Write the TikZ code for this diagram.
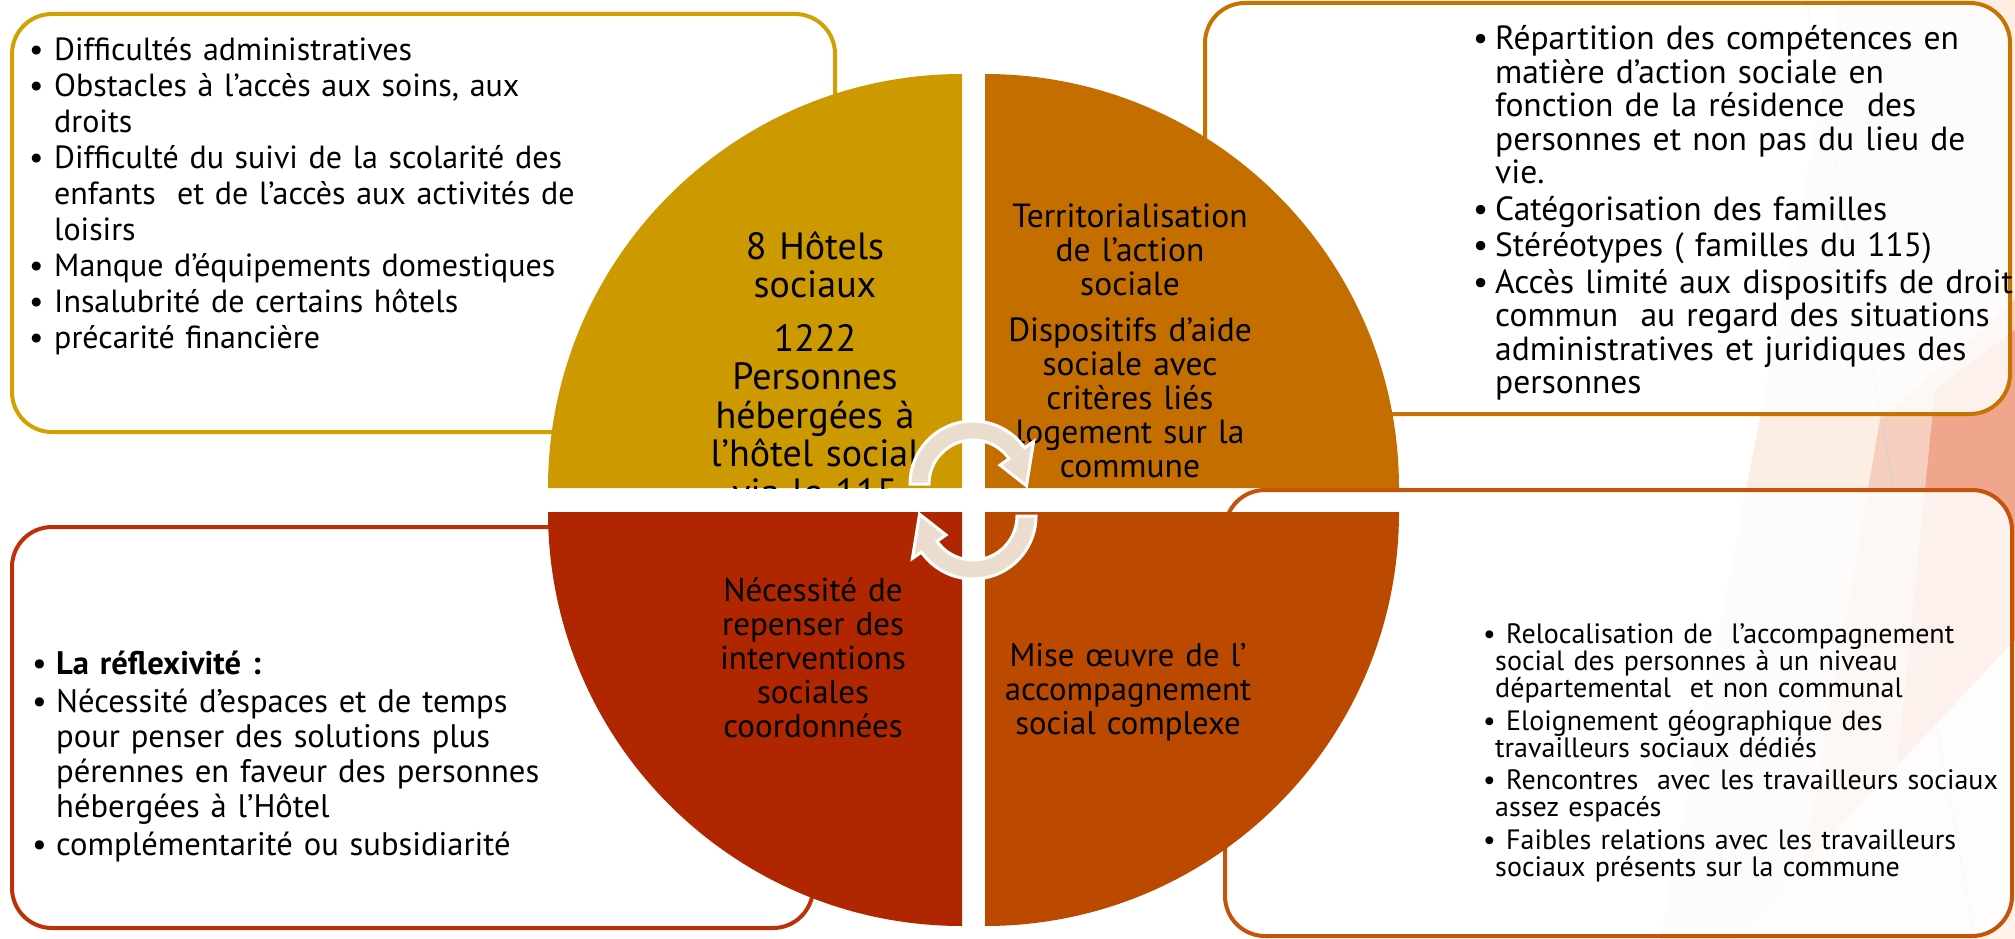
\documentclass[tikz,border=0pt]{standalone}
\usepackage{fontspec}
\setmainfont{PT Sans}

\definecolor{goldq}{RGB}{204,153,0}
\definecolor{goldline}{RGB}{210,160,0}
\definecolor{ochreq}{RGB}{196,110,0}
\definecolor{ochreline}{RGB}{199,115,0}
\definecolor{brickq}{RGB}{176,38,0}
\definecolor{brickline}{RGB}{190,48,8}
\definecolor{rustq}{RGB}{187,74,0}
\definecolor{rustline}{RGB}{196,84,10}
\definecolor{arrowbeige}{RGB}{234,221,206}
\definecolor{facetpeach}{RGB}{252,238,226}
\definecolor{facetpink}{RGB}{246,206,190}
\definecolor{facetsalmon}{RGB}{239,166,140}

% bullet line with hanging indent: #1 bullet box, #2 hang
\newcommand{\puce}[2]{\par\hangindent=#2\hangafter=1\noindent\makebox[#1][l]{\textbullet}}

\begin{document}
\begin{tikzpicture}[x=1pt, y=-1pt,
    boxline/.style={line width=4pt, rounded corners=40pt, fill=white, fill opacity=0.85},
    listtext/.style={align=left, inner sep=0pt, anchor=north west},
    quadtext/.style={align=center, inner sep=0pt, anchor=north, text width=330pt},
    cyclearrow/.style={fill=arrowbeige, draw=white, line width=3pt}]
    \useasboundingbox (0,0) rectangle (2015,939);

    % Background facets
    \fill[facetpeach] (1840,0) -- (2015,0) -- (2015,939) -- (1660,939) -- cycle;
    \fill[facetpink] (1880,420) -- (2015,300) -- (2015,939) -- (1790,939) -- cycle;
    \fill[facetsalmon] (1935,390) -- (2015,330) -- (2015,939) -- (1880,939) -- cycle;
    \fill[facetpeach!70!white] (2015,640) -- (2015,939) -- (1735,939) -- cycle;
    \draw[gray!35, line width=1pt] (1806,0) -- (1975,939);

    % Side boxes
    \draw[boxline, draw=goldline] (12,14) rectangle (835,432);
    \draw[boxline, draw=ochreline] (1205,3) rectangle (2010,414);
    \draw[boxline, draw=brickline] (12,527) rectangle (813,928);
    \draw[boxline, draw=rustline] (1225,490) rectangle (2012,936);

    % Box texts
    \node[listtext, text width=640pt, font=\fontsize{32}{36}\selectfont] (tllist) at (29,24) {%
        \puce{25pt}{25pt}Difficultés administratives
        \puce{25pt}{25pt}Obstacles à l’accès aux soins, aux\newline droits
        \puce{25pt}{25pt}Difficulté du suivi de la scolarité des\newline enfants~ et de l’accès aux activités de\newline loisirs
        \puce{25pt}{25pt}Manque d’équipements domestiques
        \puce{25pt}{25pt}Insalubrité de certains hôtels
        \puce{25pt}{25pt}précarité financière\par};
    \node[listtext, text width=560pt, font=\fontsize{33.5}{33.5}\selectfont] (trlist) at (1473,13) {%
        \setlength{\parskip}{3pt}%
        \puce{22pt}{22pt}Répartition des compétences en\newline matière d’action sociale en\newline fonction de la résidence~ des\newline personnes et non pas du lieu de\newline vie.
        \puce{22pt}{22pt}Catégorisation des familles
        \puce{22pt}{22pt}Stéréotypes ( familles du 115)
        \puce{22pt}{22pt}Accès limité aux dispositifs de droit\newline commun~ au regard des situations\newline administratives et juridiques des\newline personnes\par};
    \node[listtext, text width=640pt, font=\fontsize{32.6}{35}\selectfont] (bllist) at (32,636) {%
        \setlength{\parskip}{3pt}%
        \puce{24pt}{24pt}\textbf{La réflexivité :}
        \puce{24pt}{24pt}Nécessité d’espaces et de temps\newline pour penser des solutions plus\newline pérennes en faveur des personnes\newline hébergées à l’Hôtel
        \puce{24pt}{24pt}complémentarité ou subsidiarité\par};
    \node[listtext, text width=560pt, font=\fontsize{28}{27}\selectfont] (brlist) at (1483,611) {%
        \setlength{\parskip}{5.5pt}%
        \puce{23pt}{12pt}Relocalisation de~ l’accompagnement\newline social des personnes à un niveau\newline départemental~ et non communal
        \puce{23pt}{12pt}Eloignement géographique des\newline travailleurs sociaux dédiés
        \puce{23pt}{12pt}Rencontres~ avec les travailleurs sociaux\newline assez espacés
        \puce{23pt}{12pt}Faibles relations avec les travailleurs\newline sociaux présents sur la commune\par};

    % Quadrants
    \fill[goldq] (962,488) -- (548,488) arc[start angle=180, end angle=270, radius=414] -- cycle;
    \fill[ochreq] (985,488) -- (985,74) arc[start angle=270, end angle=360, radius=414] -- cycle;
    \fill[rustq] (985,512) -- (1399,512) arc[start angle=0, end angle=90, radius=414] -- cycle;
    \fill[brickq] (962,512) -- (962,926) arc[start angle=90, end angle=180, radius=414] -- cycle;

    % Quadrant texts
    \begin{scope}
        \clip (962,488) -- (548,488) arc[start angle=180, end angle=270, radius=414] -- cycle;
        \node[quadtext, font=\fontsize{38}{38.5}\selectfont] (tlquad) at (815,231) {8 Hôtels\\sociaux\\[15pt]1222\\Personnes\\hébergées à\\l’hôtel social\\via le 115};
    \end{scope}
    \node[quadtext, font=\fontsize{33.5}{34}\selectfont] (trquad) at (1130,204) {Territorialisation\\de l’action\\sociale\\[12pt]Dispositifs d’aide\\sociale avec\\critères liés\\logement sur la\\commune};
    \node[quadtext, font=\fontsize{33}{34}\selectfont] (blquad) at (813,578) {Nécessité de\\repenser des\\interventions\\sociales\\coordonnées};
    \node[quadtext, font=\fontsize{32.7}{34}\selectfont] (brquad) at (1128,643) {Mise œuvre de l’\\accompagnement\\social complexe};

    % Cycle arrows
    \coordinate (rotA) at (973,484);
    \coordinate (rotB) at (973,516);
    \filldraw[cyclearrow] ([shift={(rotA)}]180:63) arc[start angle=180, end angle=325, radius=63]
        -- ([shift={(rotA)}]325:74) -- ([shift={(rotA)}]362:53.5) -- ([shift={(rotA)}]325:33)
        -- ([shift={(rotA)}]325:44) arc[start angle=325, end angle=180, radius=44] -- cycle;
    \filldraw[cyclearrow] ([shift={(rotB)}]0:63) arc[start angle=0, end angle=145, radius=63]
        -- ([shift={(rotB)}]145:74) -- ([shift={(rotB)}]182:53.5) -- ([shift={(rotB)}]145:33)
        -- ([shift={(rotB)}]145:44) arc[start angle=145, end angle=0, radius=44] -- cycle;
\end{tikzpicture}
\end{document}
